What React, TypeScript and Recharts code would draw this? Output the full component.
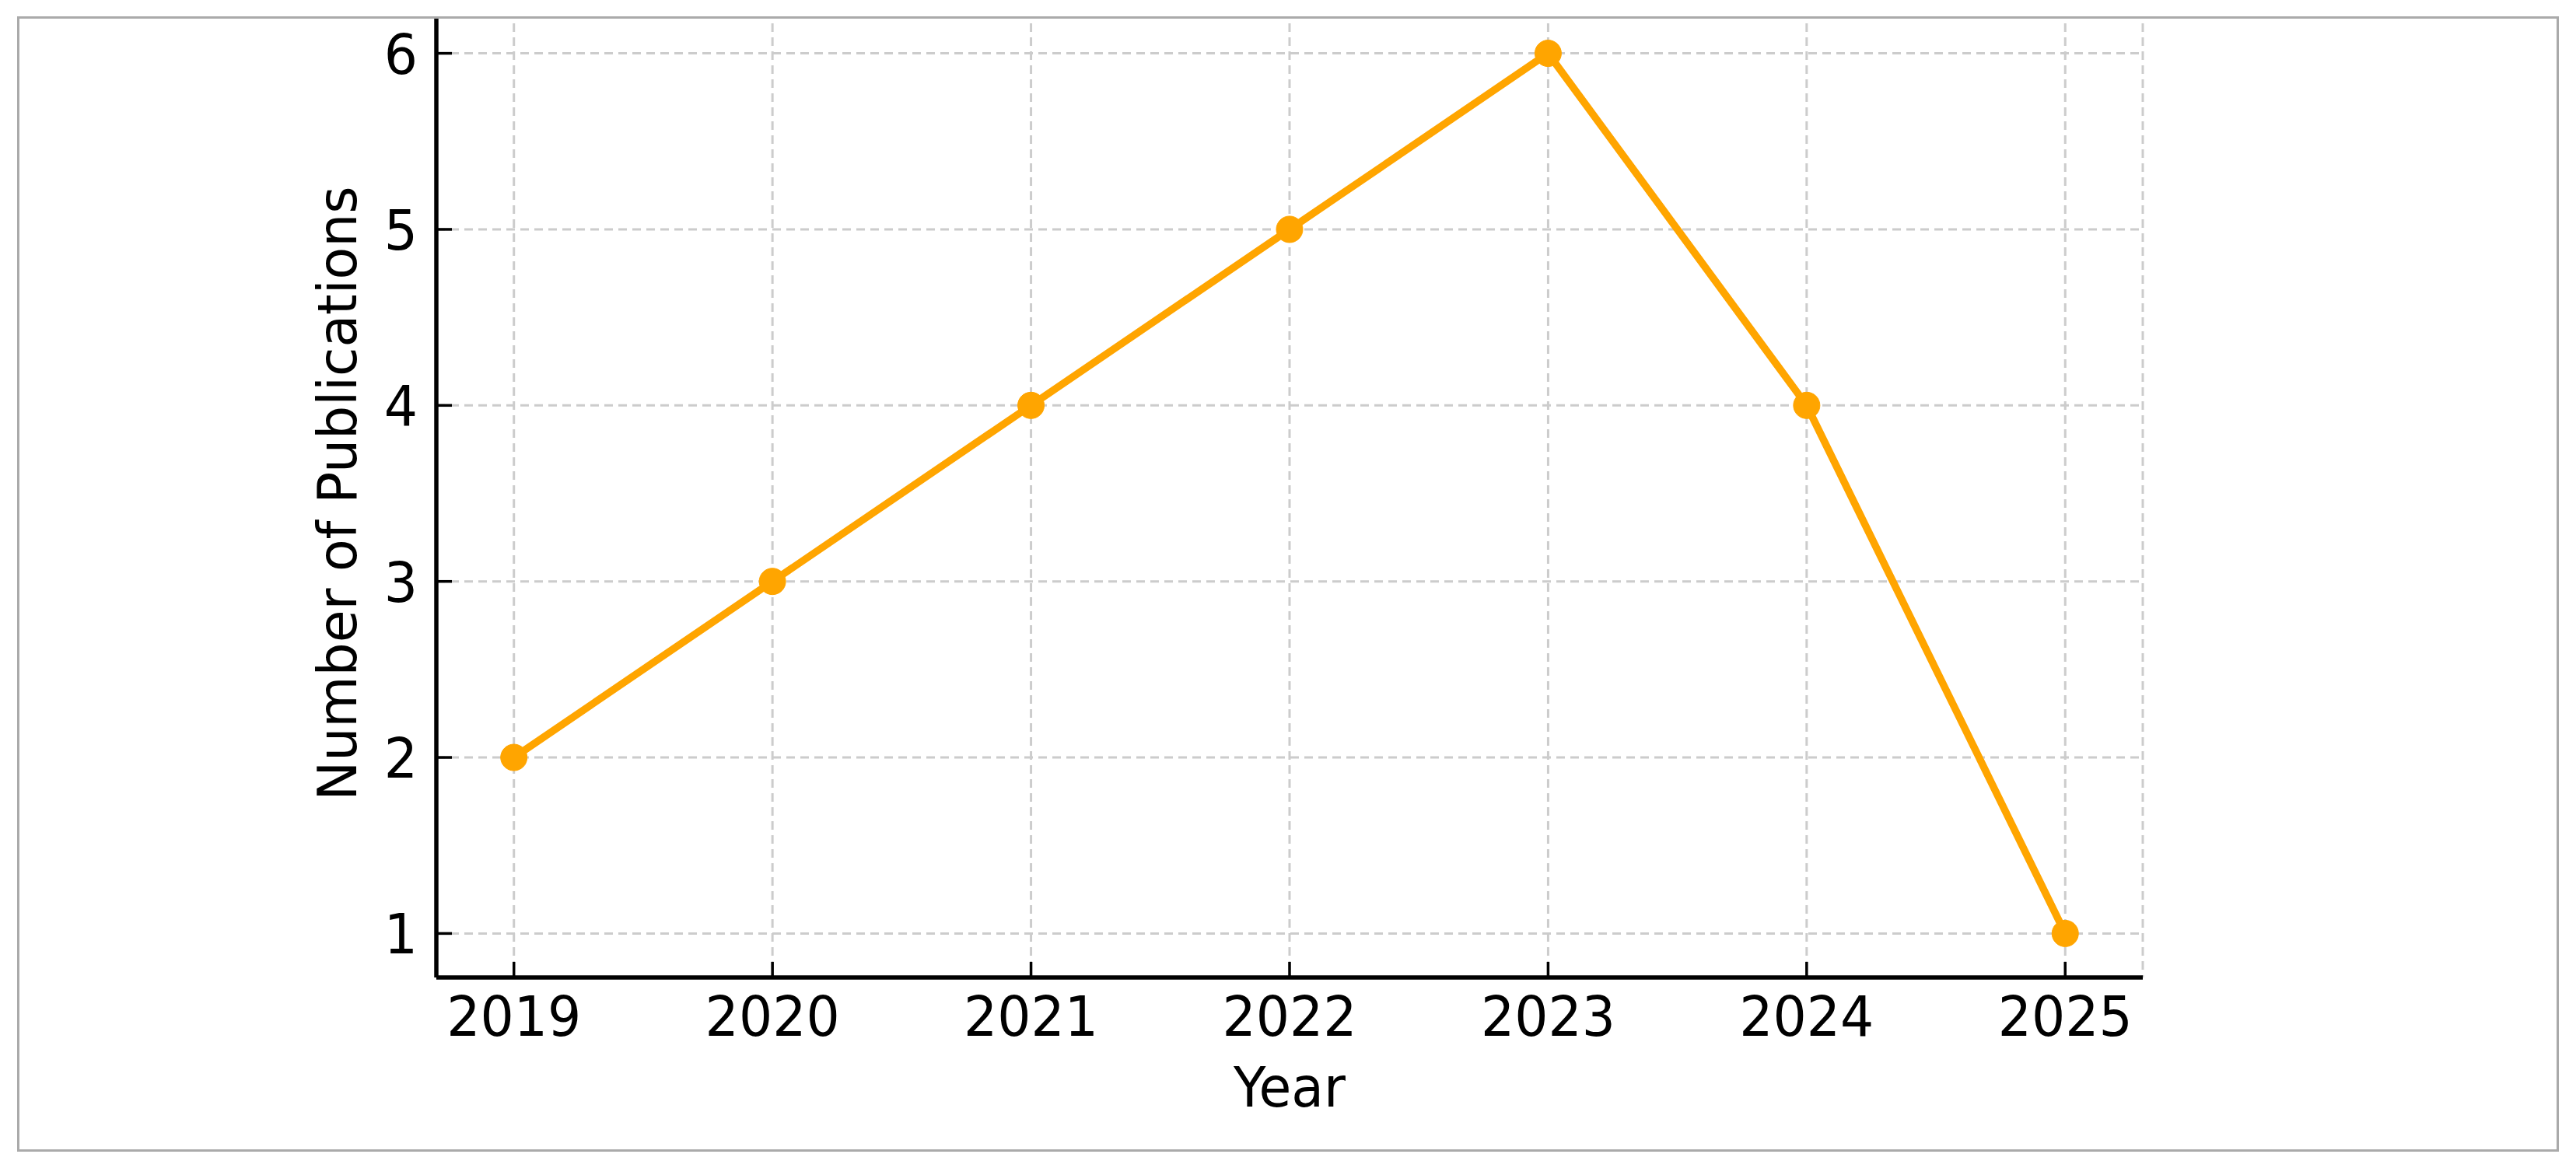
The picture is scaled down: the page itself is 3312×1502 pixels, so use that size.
import { LineChart, Line, XAxis, YAxis, CartesianGrid, Label } from "recharts";

const YEARS = [2019, 2020, 2021, 2022, 2023, 2024, 2025];
const PUBLICATIONS = [2, 3, 4, 5, 6, 4, 1];
const Y_TICKS = [1, 2, 3, 4, 5, 6];

const data = YEARS.map((year, i) => ({ year, count: PUBLICATIONS[i] }));

const FONT = "'DejaVu Sans', sans-serif";
const ORANGE = "#ffa500";
const FONT_SIZE = 68;

// the source image is slightly stretched vertically, so stretch text a bit too
function Txt({ x, y, anchor, rotate, children }: any) {
  const t = rotate
    ? `translate(${x}, ${y}) rotate(-90) scale(1, 1.02)`
    : `translate(${x}, ${y}) scale(1, 1.05)`;
  return (
    <text x={0} y={0} transform={t} textAnchor={anchor} fontSize={FONT_SIZE} fontFamily={FONT} fill="#000">
      {children}
    </text>
  );
}

function XTick({ x, y, payload }: any) {
  return (
    <g>
      <line x1={x} y1={y} x2={x} y2={y - 20} stroke="#000" strokeWidth={3.5} />
      <Txt x={x} y={y + 75} anchor="middle">
        {payload.value}
      </Txt>
    </g>
  );
}

function YTick({ x, y, payload }: any) {
  return (
    <g>
      <line x1={x} y1={y} x2={x + 20} y2={y} stroke="#000" strokeWidth={3.5} />
      <Txt x={x - 24} y={y + 26} anchor="end">
        {payload.value}
      </Txt>
    </g>
  );
}

export default function App() {
  return (
    <div style={{ position: "absolute", left: 0, top: 0, width: 3312, height: 1502, background: "#fff" }}>
      <div
        style={{
          position: "absolute",
          left: 22,
          top: 21,
          width: 3268,
          height: 1460,
          border: "3px solid #aaaaaa",
          boxSizing: "border-box",
          overflow: "hidden",
        }}
      >
        <div style={{ position: "absolute", left: -25, top: -24 }}>
          <LineChart
            width={3312}
            height={1502}
            data={data}
            margin={{ top: 12, right: 557, bottom: 145, left: 461 }}
          >
            <CartesianGrid stroke="#cccccc" strokeDasharray="11 7" strokeWidth={3} />
            <XAxis
              dataKey="year"
              type="number"
              domain={[2018.7, 2025.3]}
              ticks={YEARS}
              interval={0}
              height={100}
              tickSize={0}
              tickMargin={0}
              tickLine={false}
              tick={<XTick />}
              axisLine={{ stroke: "#000", strokeWidth: 5.5 }}
            >
              <Label
                content={({ viewBox }: any) => (
                  <Txt x={viewBox.x + viewBox.width / 2} y={viewBox.y + 166} anchor="middle">
                    Year
                  </Txt>
                )}
              />
            </XAxis>
            <YAxis
              type="number"
              domain={[0.75, 6.25]}
              ticks={Y_TICKS}
              interval={0}
              width={100}
              tickSize={0}
              tickMargin={0}
              tickLine={false}
              tick={<YTick />}
              axisLine={{ stroke: "#000", strokeWidth: 5.5 }}
            >
              <Label
                content={({ viewBox }: any) => (
                  <Txt
                    x={viewBox.x + viewBox.width - 103}
                    y={viewBox.y + viewBox.height / 2}
                    anchor="middle"
                    rotate
                  >
                    Number of Publications
                  </Txt>
                )}
              />
            </YAxis>
            <Line
              type="linear"
              dataKey="count"
              stroke={ORANGE}
              strokeWidth={9.5}
              dot={{ r: 17, fill: ORANGE, stroke: ORANGE, strokeWidth: 1 }}
              activeDot={false}
              isAnimationActive={false}
            />
          </LineChart>
        </div>
      </div>
    </div>
  );
}
